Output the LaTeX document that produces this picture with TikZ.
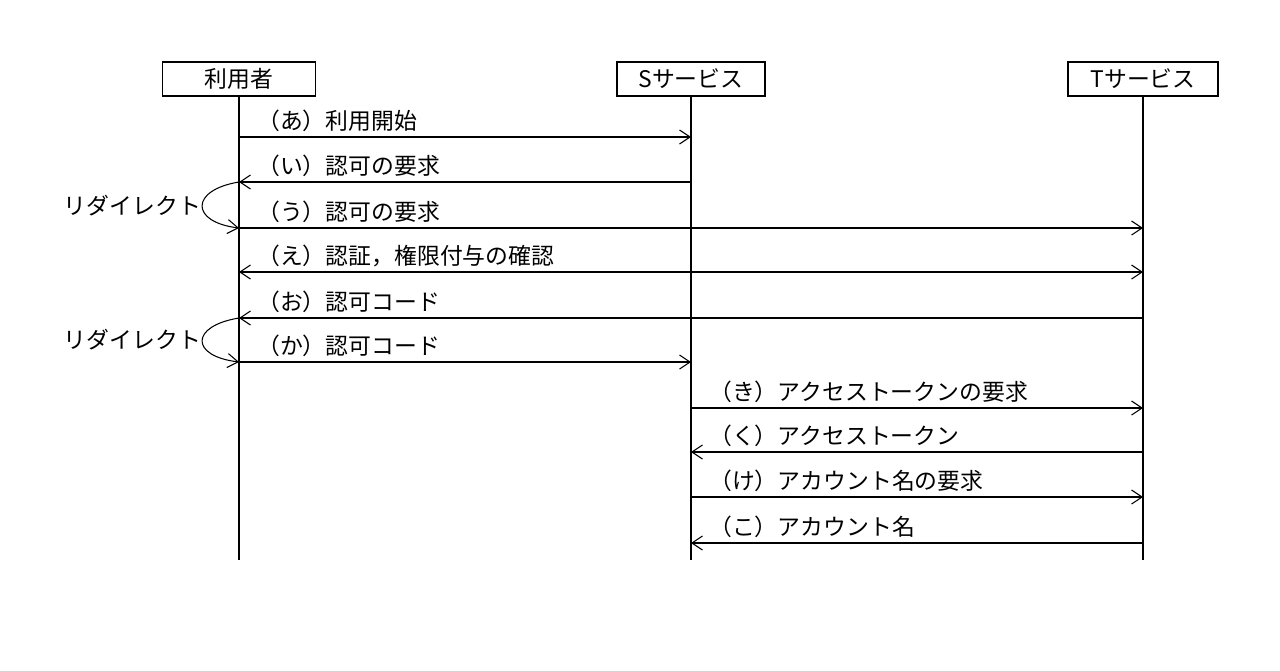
\documentclass[tikz,border=0pt]{standalone}
\usepackage{fontspec}
\setmainfont{Noto Sans CJK JP}
\usetikzlibrary{arrows.meta}
\begin{document}
\begin{tikzpicture}[
        x=0.02cm, y=-0.02cm,
        % actor boxes and messages
        actor/.style={
            draw, thick,
            minimum height=0.68cm,
            inner sep=2pt,
            font=\fontsize{13pt}{15pt}\selectfont
        },
        msg/.style={
            anchor=south west,
            inner sep=1pt,
            font=\fontsize{13pt}{15pt}\selectfont
        },
        arr/.style={
            -{Straight Barb[length=6pt,width=8pt]}, semithick
        }
    ]
    \useasboundingbox (0,0) rectangle (1280,670);

    \node[actor, minimum width=3.06cm] (u) at (239,79) {利用者};
    \node[actor, minimum width=2.96cm] (s) at (691,79) {Sサービス};
    \node[actor, minimum width=3.0cm] (t) at (1143,79) {Tサービス};

    \coordinate (uend) at (239,560);
    \coordinate (send) at (691,560);
    \coordinate (tend) at (1143,560);
    \draw[semithick] (u.south) -- (uend);
    \draw[semithick] (s.south) -- (send);
    \draw[semithick] (t.south) -- (tend);

    % message points on the lifelines
    \foreach \n/\y in {1/137,2/182,3/228,4/272,5/318,6/362,7/408,8/452,9/497,10/543} {
        \coordinate (u\n) at (239,\y);
        \coordinate (s\n) at (691,\y);
        \coordinate (t\n) at (1143,\y);
    }

    \draw[arr] (u1) -- (s1) node[msg] (ma) at (255,134) {（あ）利用開始};
    \draw[arr] (s2) -- (u2) node[msg] (mi) at (255,179) {（い）認可の要求};
    \draw[arr] (u3) -- (t3) node[msg] (mu) at (255,225) {（う）認可の要求};
    \draw[arr, {Straight Barb[length=6pt,width=8pt]}-{Straight Barb[length=6pt,width=8pt]}] (u4) -- (t4) node[msg] (me) at (255,269) {（え）認証，権限付与の確認};
    \draw[arr] (t5) -- (u5) node[msg] (mo) at (255,315) {（お）認可コード};
    \draw[arr] (u6) -- (s6) node[msg] (mk) at (255,359) {（か）認可コード};
    \draw[arr] (s7) -- (t7) node[msg] (mki) at (707,405) {（き）アクセストークンの要求};
    \draw[arr] (t8) -- (s8) node[msg] (mku) at (707,449) {（く）アクセストークン};
    \draw[arr] (s9) -- (t9) node[msg] (mke) at (707,494) {（け）アカウント名の要求};
    \draw[arr] (t10) -- (s10) node[msg] (mko) at (707,540) {（こ）アカウント名};

    % redirects
    \draw[arr] (u2) .. controls (190,190) and (190,222) .. (u3);
    \draw[arr] (u5) .. controls (190,326) and (190,356) .. (u6);
    \node[msg, anchor=east] (r1) at (203,206) {リダイレクト};
    \node[msg, anchor=east] (r2) at (203,340) {リダイレクト};
\end{tikzpicture}
\end{document}
